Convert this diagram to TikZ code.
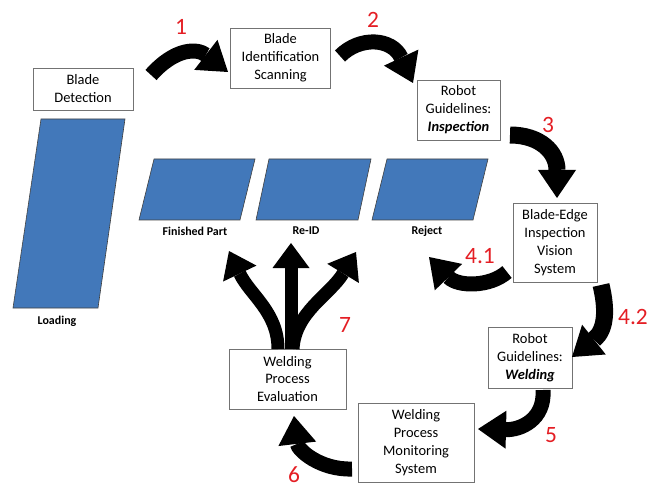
\documentclass[tikz,border=0pt]{standalone}
\usepackage{fontspec}
\setmainfont{Carlito}
\usetikzlibrary{arrows.meta}
\definecolor{bladeblue}{RGB}{66,120,186}
\definecolor{numred}{RGB}{228,30,36}
\tikzset{
  box/.style={draw=black!55, line width=0.8bp, fill=white, align=center, inner sep=0pt,
    font=\fontsize{14.5}{18}\selectfont},
  blade/.style={fill=bladeblue, draw=black!75, line width=0.6bp},
  lab/.style={font=\fontsize{12}{14}\selectfont\bfseries, inner sep=0pt},
  num/.style={text=numred, font=\fontsize{23.5}{26}\selectfont, inner sep=0pt},
  bigarrow/.style={line width=15bp, black, -{Triangle[width=38bp,length=28bp,line width=0pt]}},
  thickarrow/.style={bigarrow, line width=17bp},
  forkarrow/.style={line width=13bp, black, -{Triangle[width=37bp,length=25bp,line width=0pt]}}
}
\begin{document}
\begin{tikzpicture}[x=1bp,y=-1bp]
\useasboundingbox (0,0) rectangle (662,488);

% blades (parallelograms)
\draw[blade] (41,119) -- (125,119) -- (98,308) -- (13,308) -- cycle;
\draw[blade] (154,159) -- (255,159) -- (240,220) -- (139,220) -- cycle;
\draw[blade] (269,159) -- (371,159) -- (358,220) -- (256,220) -- cycle;
\draw[blade] (387,159) -- (488,159) -- (473,220) -- (372,220) -- cycle;
\node[lab] (lload) at (57,321) {Loading};
\node[lab] (lfin) at (195,231) {Finished Part};
\node[lab] (lreid) at (306,231) {Re-ID};
\node[lab] (lrej) at (427,231) {Reject};

% boxes
\node[box, minimum width=100bp, minimum height=42bp] (det) at (83,89) {Blade\\Detection};
\node[box, minimum width=100bp, minimum height=60bp] (scan) at (280.5,58) {Blade\\Identification\\Scanning};
\node[box, minimum width=83bp, minimum height=60bp] (insp) at (458.5,110) {Robot\\Guidelines:\\\textbf{\textit{Inspection}}};
\node[box, minimum width=84bp, minimum height=79bp] (vis) at (555,242.5) {Blade-Edge\\Inspection\\Vision\\System};
\node[box, minimum width=84bp, minimum height=61bp] (weld) at (530,357.5) {Robot\\Guidelines:\\\textbf{\textit{Welding}}};
\node[box, minimum width=116bp, minimum height=79bp] (mon) at (416,442.5) {Welding\\Process\\Monitoring\\System};
\node[box, minimum width=117bp, minimum height=60bp] (eval) at (287.5,379) {Welding\\Process\\Evaluation};

% numbers
\node[num] (n1) at (181,27) {1};
\node[num] (n2) at (373,20) {2};
\node[num] (n3) at (548,125) {3};
\node[num] (n41) at (480,256) {4.1};
\node[num] (n42) at (633,317) {4.2};
\node[num] (n5) at (551,435) {5};
\node[num] (n6) at (294,475) {6};
\node[num] (n7) at (345,325) {7};

% arrow end points
\coordinate (a1s) at (151,75);  \coordinate (a1e) at (228,72);
\coordinate (a2s) at (340,56);  \coordinate (a2e) at (413,83);
\coordinate (a3s) at (510,135); \coordinate (a3e) at (557,198);
\coordinate (a4s) at (507,272); \coordinate (a4e) at (429,257);
\coordinate (a5s) at (601,285); \coordinate (a5e) at (572,357);
\coordinate (a6s) at (543,390); \coordinate (a6e) at (478,429);
\coordinate (a7s) at (352,469); \coordinate (a7e) at (294,416);
\coordinate (fL) at (278,349);  \coordinate (fLe) at (229,251);
\coordinate (fC) at (291,349);  \coordinate (fCe) at (291,243);
\coordinate (fR) at (293,349);  \coordinate (fRe) at (356,252);

\draw[bigarrow] (a1s) .. controls (175,48) and (197,48) .. (a1e);
\draw[bigarrow] (a2s) .. controls (360,36) and (392,38) .. (a2e);
\draw[thickarrow] (a3s) .. controls (540,135) and (557,152) .. (a3e);
\draw[bigarrow] (a4s) .. controls (490,287) and (458,287) .. (a4e);
\draw[thickarrow] (a5s) .. controls (607,310) and (606,330) .. (a5e);
\draw[bigarrow] (a6s) .. controls (545,420) and (520,430) .. (a6e);
\draw[bigarrow] (a7s) .. controls (320,470) and (298,450) .. (a7e);

\draw[forkarrow] (fL) .. controls (278,312) and (250,295) .. (fLe);
\draw[forkarrow] (fR) .. controls (295,312) and (330,295) .. (fRe);
\draw[forkarrow] (fC) -- (fCe);
\end{tikzpicture}
\end{document}
